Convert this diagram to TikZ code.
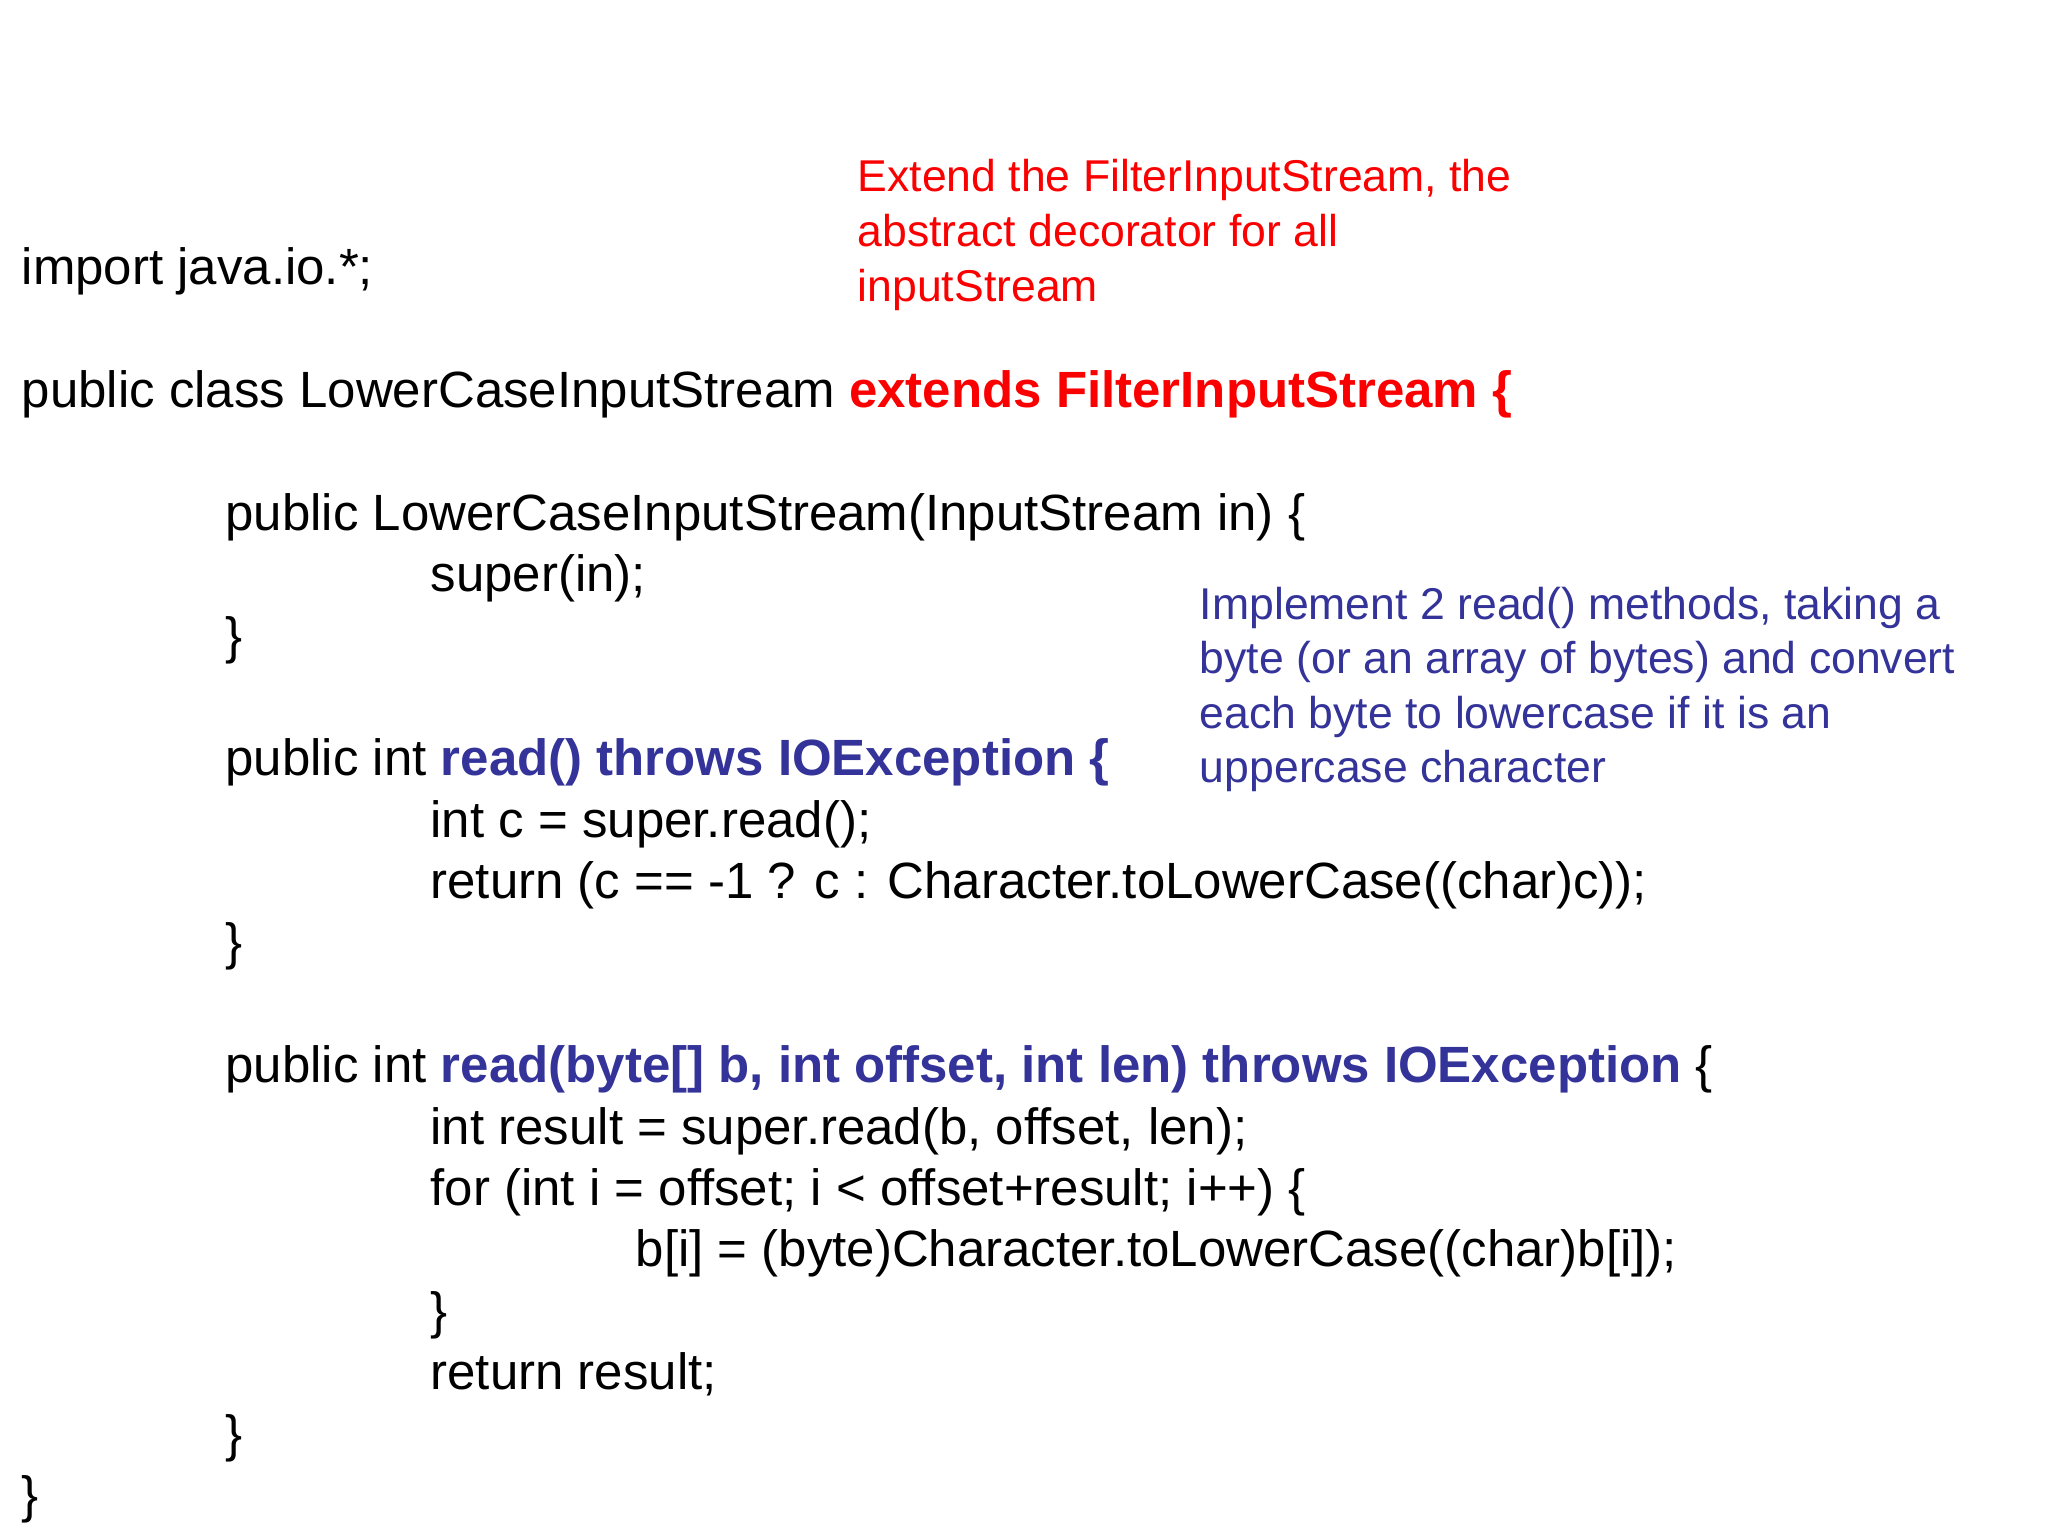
\documentclass[tikz,border=0pt]{standalone}
\usepackage{fontspec}
\setmainfont{Liberation Sans}
\definecolor{myred}{RGB}{250,0,0}
\definecolor{myblue}{RGB}{51,51,153}
\begin{document}
\begin{tikzpicture}[x=0.01cm,y=-0.01cm,
  code/.style={anchor=base west,inner sep=0pt,font=\fontsize{11.1pt}{13pt}\selectfont},
  note/.style={anchor=base west,inner sep=0pt,font=\fontsize{9.7pt}{12pt}\selectfont}]
\useasboundingbox[fill=white] (0,0) rectangle (1568,1176);
\node[code] (l1) at (16,218) {import java.io.*;};
\node[code] (l2) at (16,312) {public class LowerCaseInputStream \textcolor{myred}{\bfseries extends FilterInputStream \{}};
\node[code] (l3) at (172,406) {public LowerCaseInputStream(InputStream in) \{};
\node[code] (l4) at (329,453) {super(in);};
\node[code] (l5) at (172,500) {\}};
\node[code] (l6) at (172,594) {public int \textcolor{myblue}{\bfseries read() throws IOException \{}};
\node[code] (l7) at (329,641) {int c = super.read();};
\node[code] (l8) at (329,688) {return (c == -1 ? c : Character.toLowerCase((char)c));};
\node[code] (l9) at (172,735) {\}};
\node[code] (l10) at (172,829) {public int \textcolor{myblue}{\bfseries read(byte[] b, int offset, int len) throws IOException} \{};
\node[code] (l11) at (329,876) {int result = super.read(b, offset, len);};
\node[code] (l12) at (329,923) {for (int i = offset; i < offset+result; i++) \{};
\node[code] (l13) at (486,970) {b[i] = (byte)Character.toLowerCase((char)b[i]);};
\node[code] (l14) at (329,1017) {\}};
\node[code] (l15) at (329,1064) {return result;};
\node[code] (l16) at (172,1111) {\}};
\node[code] (l17) at (16,1158) {\}};
\node[note,myred] (r1) at (656,147) {Extend the FilterInputStream, the};
\node[note,myred] (r2) at (656,189) {abstract decorator for all};
\node[note,myred] (r3) at (656,231) {inputStream};
\node[note,myblue] (b1) at (918,474) {Implement 2 read() methods, taking a};
\node[note,myblue] (b2) at (918,516) {byte (or an array of bytes) and convert};
\node[note,myblue] (b3) at (918,558) {each byte to lowercase if it is an};
\node[note,myblue] (b4) at (918,599) {uppercase character};
\end{tikzpicture}
\end{document}
